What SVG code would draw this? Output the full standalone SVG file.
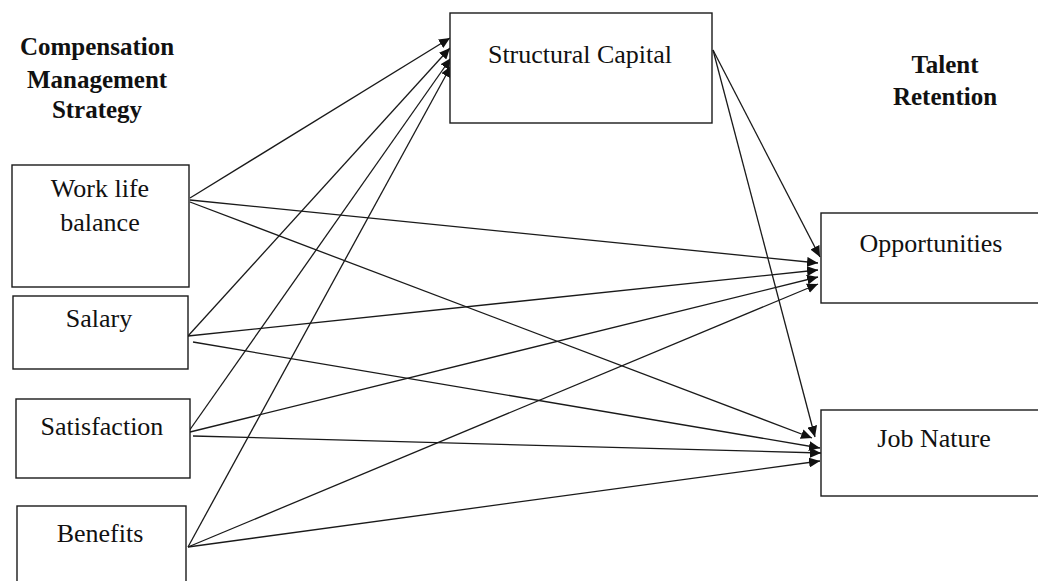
<svg xmlns="http://www.w3.org/2000/svg" width="1038" height="581" viewBox="0 0 1038 581">
  <style>
    .box { fill: #ffffff; stroke: #1a1a1a; stroke-width: 1.4; }
    .lbl { font-family: "Liberation Serif", "Times New Roman", serif; font-size: 26px; fill: #111; text-anchor: middle; }
    .hdr { font-family: "Liberation Serif", "Times New Roman", serif; font-size: 25px; font-weight: bold; fill: #111; text-anchor: middle; }
    .edge { stroke: #1a1a1a; stroke-width: 1.3; fill: none; marker-end: url(#arrow); }
  </style>
  <defs>
    <marker id="arrow" markerUnits="userSpaceOnUse" markerWidth="12" markerHeight="10" refX="11" refY="5" orient="auto">
      <path d="M0,0 L11,5 L0,10 Z" fill="#111"/>
    </marker>
  </defs>
  <rect width="1038" height="581" fill="#ffffff"/>

  <g id="header-left">
    <text class="hdr" x="97" y="55">Compensation</text>
    <text class="hdr" x="97" y="88">Management</text>
    <text class="hdr" x="97" y="118">Strategy</text>
  </g>
  <g id="header-right">
    <text class="hdr" x="945" y="73">Talent</text>
    <text class="hdr" x="945" y="105">Retention</text>
  </g>

  <g id="connectors">
    <line class="edge" x1="190" y1="198" x2="450" y2="38"/>
    <line class="edge" x1="188" y1="336" x2="450" y2="48"/>
    <line class="edge" x1="189" y1="431" x2="451" y2="58"/>
    <line class="edge" x1="188" y1="547" x2="451" y2="66"/>

    <line class="edge" x1="713" y1="50" x2="820" y2="257"/>
    <line class="edge" x1="713" y1="50" x2="815" y2="437"/>

    <line class="edge" x1="190" y1="200" x2="818" y2="263"/>
    <line class="edge" x1="188" y1="336" x2="818" y2="270"/>
    <line class="edge" x1="190" y1="432" x2="818" y2="277"/>
    <line class="edge" x1="188" y1="547" x2="818" y2="284"/>

    <line class="edge" x1="190" y1="202" x2="812" y2="438"/>
    <line class="edge" x1="193" y1="342" x2="820" y2="448"/>
    <line class="edge" x1="193" y1="436" x2="821" y2="453"/>
    <line class="edge" x1="188" y1="547" x2="820" y2="461"/>
  </g>

  <g id="node-structural-capital">
    <rect class="box" x="450" y="13" width="262" height="110"/>
    <text class="lbl" x="580" y="63">Structural Capital</text>
  </g>
  <g id="node-work-life-balance">
    <rect class="box" x="12" y="165" width="177" height="122"/>
    <text class="lbl" x="100" y="197">Work life</text>
    <text class="lbl" x="100" y="231">balance</text>
  </g>
  <g id="node-salary">
    <rect class="box" x="13" y="296" width="175" height="73"/>
    <text class="lbl" x="99" y="327">Salary</text>
  </g>
  <g id="node-satisfaction">
    <rect class="box" x="16" y="399" width="174" height="79"/>
    <text class="lbl" x="102" y="435">Satisfaction</text>
  </g>
  <g id="node-benefits">
    <rect class="box" x="17" y="506" width="169" height="90"/>
    <text class="lbl" x="100" y="542">Benefits</text>
  </g>
  <g id="node-opportunities">
    <rect class="box" x="821" y="213" width="230" height="90"/>
    <text class="lbl" x="931" y="252">Opportunities</text>
  </g>
  <g id="node-job-nature">
    <rect class="box" x="821" y="410" width="230" height="86"/>
    <text class="lbl" x="934" y="447">Job Nature</text>
  </g>
</svg>
